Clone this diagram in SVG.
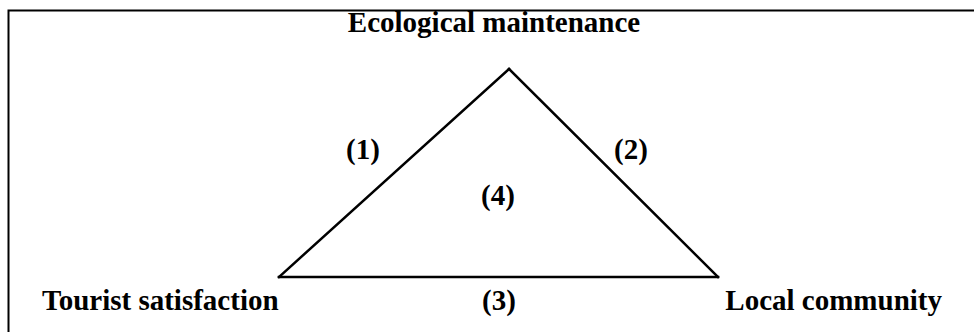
<svg xmlns="http://www.w3.org/2000/svg" width="974" height="332" viewBox="0 0 974 332">
<style>
text{font-family:"Liberation Serif","Times New Roman",serif;font-weight:bold;font-size:29px;fill:#000}
.edge{stroke:#000;stroke-width:2.5;fill:none;stroke-linecap:square}
</style>
<rect x="0" y="0" width="974" height="332" fill="#fff"/>
<rect x="8.5" y="10.5" width="980" height="340" fill="none" stroke="#000" stroke-width="2"/>
<g id="connectors">
<line class="edge" x1="509" y1="69" x2="279" y2="277"/>
<line class="edge" x1="509" y1="69" x2="718" y2="277"/>
<line class="edge" x1="279" y1="277" x2="718" y2="277" stroke-width="4"/>
</g>
<g id="node-eco"><text x="494" y="32" text-anchor="middle">Ecological maintenance</text></g>
<g id="node-tourist"><text x="42" y="310">Tourist satisfaction</text></g>
<g id="node-local"><text x="942" y="310" text-anchor="end">Local community</text></g>
<g id="label-1"><text x="363" y="159" text-anchor="middle">(1)</text></g>
<g id="label-2"><text x="631" y="159" text-anchor="middle">(2)</text></g>
<g id="label-4"><text x="498" y="205" text-anchor="middle">(4)</text></g>
<g id="label-3"><text x="499" y="310" text-anchor="middle">(3)</text></g>
</svg>
